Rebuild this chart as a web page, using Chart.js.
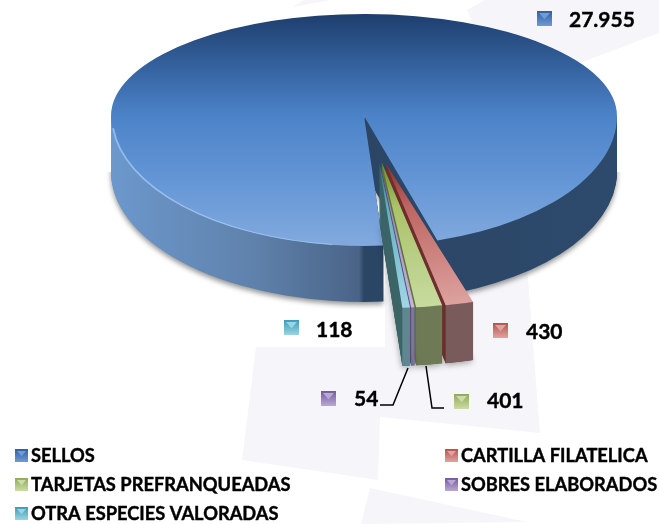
<!DOCTYPE html>
<html lang="es">
<head>
<meta charset="utf-8">
<title>Especies valoradas</title>
<style>
    html, body { margin: 0; padding: 0; background: #fff; overflow: hidden; }
    canvas { display: block; }
</style>
<script src="https://cdn.jsdelivr.net/npm/chart.js@4/dist/chart.umd.min.js"></script>
</head>
<body>
<canvas id="pie" width="659" height="524"></canvas>
<script>
const categories = ["SELLOS", "CARTILLA FILATELICA", "TARJETAS PREFRANQUEADAS", "SOBRES ELABORADOS", "OTRA ESPECIES VALORADAS"];
const values = [27955, 430, 401, 54, 118];
const valueLabels = ["27.955", "430", "401", "54", "118"];

// swatch colours per slice
const swatchDark = ["#2f5f9e", "#b5524f", "#8fa957", "#7458a0", "#3a9db5"];
const swatchLight = ["#6f9bd6", "#e0a3a0", "#cbdca6", "#b9a9d2", "#9bd4e4"];

// exploded wedge colours: centre, middle, outer, front face, side wall
const wedgeCentre = [null, "#8a2a28", "#6a8a2c", "#5a4880", "#1f6d7a"];
const wedgeMiddle = [null, "#bd6460", "#a9c268", "#9c8bbc", "#62aec0"];
const wedgeOuter = [null, "#dda29f", "#c8dba0", "#c4b5d8", "#a0d6e6"];
const wedgeFront = [null, "#7a5b5b", "#6d7a55", "#77779a", "#5f8791"];
const wedgeWall = [null, "#6e2f2e", "#5f7433", "#5a4c78", "#3d6668"];
const wedgeNudge = [0, 4, 0.5, -1, -2];

// where things sit on the page
const legendSpots = [[15, 449], [445, 449], [15, 478], [445, 478], [15, 507]];
const valueSpots = [[537, 11, 569, 20], [493, 323, 526, 332], [454, 394, 487, 401], [321, 391, 354, 399], [284, 320, 316, 330]];
const leaderLines = [
    [[426, 366], [432, 408], [444, 408]],
    [[408, 368], [393, 405], [380, 405]]
];
const paperShapes = [
    [[467, 10], [485, 0], [659, 0], [659, 33], [580, 63], [500, 90]],
    [[293, 7], [304, 0], [330, 0]],
    [[256, 347], [385, 347], [385, 240], [525, 240], [540, 433], [380, 417], [378, 480], [242, 460]],
    [[370, 488], [527, 522], [361, 524]]
];

const pie = {x: 364, split: 116, radius: 253, scaleUp: 102 / 253, scaleDown: 130 / 253, depth: 56};
const wedge = {x: 381, y: 162, scaleX: 1.2, scaleY: 0.578, depth: 58};

function sliceFill(context) {
    const chart = context.chart;
    const ctx = chart.ctx;
    const x = chart.width / 2;
    const y = chart.height / 2;
    const index = context.dataIndex;
    if (index === 0) {
        const face = ctx.createLinearGradient(0, y - pie.radius, 0, y + pie.radius);
        face.addColorStop(0, "#1e3e6d");
        face.addColorStop(0.25, "#34619d");
        face.addColorStop(0.5, "#4c83c8");
        face.addColorStop(0.75, "#6496d6");
        face.addColorStop(1, "#82aade");
        return face;
    }
    const top = ctx.createRadialGradient(x, y, 0, x, y, pie.radius);
    top.addColorStop(0, wedgeCentre[index]);
    top.addColorStop(0.3, wedgeMiddle[index]);
    top.addColorStop(1, wedgeOuter[index]);
    return top;
}

function placed(ctx, arc, x, y, sx, sy, draw) {
    ctx.save();
    ctx.translate(x, y);
    ctx.scale(sx, sy);
    ctx.translate(-arc.x, -arc.y);
    draw();
    ctx.restore();
}

function sectorPath(ctx, arc) {
    ctx.beginPath();
    ctx.moveTo(arc.x, arc.y);
    ctx.arc(arc.x, arc.y, arc.outerRadius, arc.startAngle, arc.endAngle);
    ctx.closePath();
}

function clipRows(ctx, top, bottom) {
    ctx.beginPath();
    ctx.rect(0, top, 659, bottom - top);
    ctx.clip();
}

function drawMainSlice(ctx, arc) {
    const side = ctx.createLinearGradient(arc.x - arc.outerRadius, 0, arc.x + arc.outerRadius, 0);
    side.addColorStop(0, "#6c98cc");
    side.addColorStop(0.28, "#5f82ac");
    side.addColorStop(0.49, "#4a6487");
    side.addColorStop(0.5, "#2b4565");
    side.addColorStop(1, "#2d4a6c");

    for (let dy = pie.depth; dy >= 1; dy--) {
        ctx.save();
        clipRows(ctx, pie.split + dy, 524);
        if (dy === pie.depth) {
            ctx.shadowColor = "rgba(0,0,0,0.4)";
            ctx.shadowBlur = 5;
            ctx.shadowOffsetY = 3;
        }
        placed(ctx, arc, pie.x, pie.split + dy, 1, pie.scaleDown, () => {
            ctx.fillStyle = side;
            sectorPath(ctx, arc);
            ctx.fill();
        });
        ctx.restore();
    }

    ctx.save();
    clipRows(ctx, pie.split, 524);
    placed(ctx, arc, pie.x, pie.split, 1, pie.scaleDown, () => {
        arc.draw(ctx);
        // light rim along the front left edge
        ctx.strokeStyle = "rgba(170,208,246,0.7)";
        ctx.lineWidth = 2;
        ctx.beginPath();
        ctx.arc(arc.x, arc.y, arc.outerRadius - 1, Math.PI * 0.54, Math.PI * 0.97);
        ctx.stroke();
    });
    ctx.restore();

    ctx.save();
    clipRows(ctx, 0, pie.split + 0.5);
    placed(ctx, arc, pie.x, pie.split, 1, pie.scaleUp, () => arc.draw(ctx));
    ctx.restore();
}

function drawWedgeSlice(ctx, arc, index) {
    const x = wedge.x + wedgeNudge[index];
    for (let dy = wedge.depth; dy >= 1; dy--) {
        ctx.save();
        if (dy === wedge.depth) {
            ctx.shadowColor = "rgba(0,0,0,0.35)";
            ctx.shadowBlur = 6;
            ctx.shadowOffsetY = 2;
        }
        placed(ctx, arc, x, wedge.y + dy, wedge.scaleX, wedge.scaleY, () => {
            ctx.fillStyle = wedgeWall[index];
            sectorPath(ctx, arc);
            ctx.fill();
        });
        ctx.restore();
    }
    placed(ctx, arc, x, wedge.y, wedge.scaleX, wedge.scaleY, () => {
        const drop = wedge.depth / wedge.scaleY;
        ctx.fillStyle = wedgeFront[index];
        ctx.beginPath();
        ctx.arc(arc.x, arc.y, arc.outerRadius, arc.startAngle, arc.endAngle);
        ctx.arc(arc.x, arc.y + drop, arc.outerRadius, arc.endAngle, arc.startAngle, true);
        ctx.closePath();
        ctx.fill();
        arc.draw(ctx);
    });
}

function drawSwatch(ctx, left, top, size, index) {
    const fill = ctx.createLinearGradient(0, top, 0, top + size);
    fill.addColorStop(0, swatchDark[index]);
    fill.addColorStop(1, swatchLight[index]);
    ctx.fillStyle = fill;
    ctx.fillRect(left, top, size, size);
    ctx.fillStyle = swatchLight[index];
    ctx.beginPath();
    ctx.moveTo(left + 2, top + 2);
    ctx.lineTo(left + size - 2, top + 2);
    ctx.lineTo(left + size / 2, top + size * 0.55);
    ctx.closePath();
    ctx.fill();
}

function heavyText(ctx, text, x, y) {
    ctx.fillStyle = "#000";
    ctx.strokeStyle = "#000";
    ctx.lineWidth = 0.4;
    ctx.fillText(text, x, y);
    ctx.strokeText(text, x, y);
}

const paperPlugin = {
    id: "paper",
    beforeDraw(chart) {
        const ctx = chart.ctx;
        ctx.save();
        ctx.fillStyle = "#f6f6fa";
        paperShapes.forEach((shape) => {
            ctx.beginPath();
            shape.forEach(([x, y], i) => (i ? ctx.lineTo(x, y) : ctx.moveTo(x, y)));
            ctx.closePath();
            ctx.fill();
        });
        ctx.restore();
    }
};

const pie3dPlugin = {
    id: "pie3d",
    beforeDatasetsDraw(chart) {
        const ctx = chart.ctx;
        const arcs = chart.getDatasetMeta(0).data;
        drawMainSlice(ctx, arcs[0]);
        for (let i = 1; i < arcs.length; i++) {
            drawWedgeSlice(ctx, arcs[i], i);
        }
        return false;
    }
};

const labelsPlugin = {
    id: "labelsAndLegend",
    afterDraw(chart) {
        const ctx = chart.ctx;
        ctx.save();
        ctx.strokeStyle = "#000";
        ctx.lineWidth = 1.5;
        leaderLines.forEach((line) => {
            ctx.beginPath();
            line.forEach(([x, y], i) => (i ? ctx.lineTo(x, y) : ctx.moveTo(x, y)));
            ctx.stroke();
        });
        ctx.textBaseline = "middle";
        valueLabels.forEach((label, i) => {
            const [left, top, textX, textY] = valueSpots[i];
            drawSwatch(ctx, left, top, 15, i);
            ctx.font = "bold 21px Lato";
            heavyText(ctx, label, textX, textY);
        });
        categories.forEach((name, i) => {
            const [left, top] = legendSpots[i];
            drawSwatch(ctx, left, top, 13, i);
            ctx.font = "bold 18.3px Lato";
            heavyText(ctx, name, left + 16, top + 7);
        });
        ctx.restore();
    }
};

new Chart(document.getElementById("pie"), {
    type: "pie",
    data: {
        labels: categories,
        datasets: [{
            data: values,
            backgroundColor: sliceFill,
            borderWidth: 0,
            clip: false
        }]
    },
    options: {
        responsive: false,
        animation: false,
        events: [],
        rotation: 175.6,
        radius: pie.radius,
        layout: {padding: 0},
        plugins: {legend: {display: false}, tooltip: {enabled: false}}
    },
    plugins: [paperPlugin, pie3dPlugin, labelsPlugin]
});
</script>
</body>
</html>
